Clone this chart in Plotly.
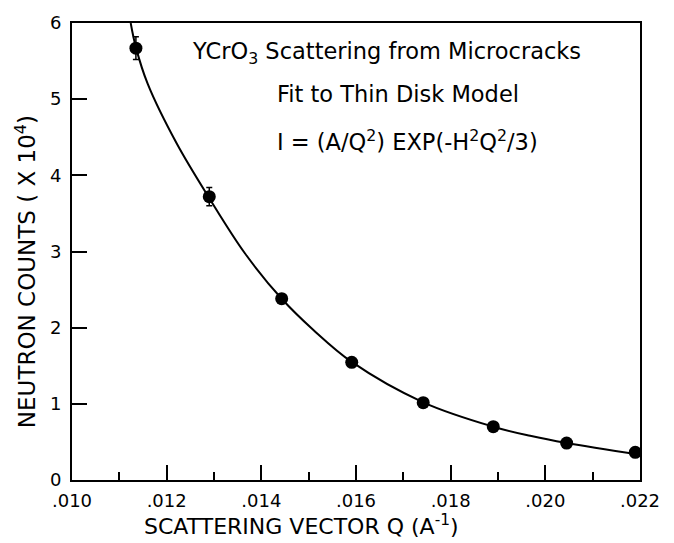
import plotly.graph_objects as go

# Measured small-angle scattering: Q (1/A) and counts (x 10^4)
q_data = [0.01135, 0.01290, 0.01443, 0.01591, 0.01742, 0.01890, 0.02045, 0.02190]
counts = [5.67, 3.72, 2.38, 1.545, 1.015, 0.70, 0.485, 0.364]
count_err = [0.15, 0.12, 0, 0, 0, 0, 0, 0]

# Thin-disk model fit curve, sampled along Q
fit_q = [0.01124, 0.01135, 0.01160, 0.01221, 0.01290, 0.01366, 0.01443, 0.01510,
         0.01591, 0.01742, 0.01890, 0.01968, 0.02045, 0.02200]
fit_i = [6.00, 5.68, 5.20, 4.42, 3.70, 2.97, 2.38, 1.97,
         1.55, 1.02, 0.70, 0.58, 0.485, 0.33]

x_ticks = [0.010, 0.012, 0.014, 0.016, 0.018, 0.020, 0.022]
x_tick_labels = [".010", ".012", ".014", ".016", ".018", ".020", ".022"]
y_ticks = [0, 1, 2, 3, 4, 5, 6]
y_tick_labels = ["0", "1", "2", "3", "4", "5", "6"]

FONT = "DejaVu Sans"

fig = go.Figure()

fig.add_trace(go.Scatter(
    x=fit_q, y=fit_i, mode="lines",
    line=dict(color="black", width=2, shape="spline", smoothing=1.0),
    hoverinfo="skip", showlegend=False,
))

fig.add_trace(go.Scatter(
    x=q_data, y=counts, mode="markers",
    marker=dict(color="black", size=13),
    error_y=dict(type="data", array=count_err, visible=True,
                 color="black", thickness=1.5, width=3),
    showlegend=False,
))

axis_common = dict(
    showline=True, linecolor="black", linewidth=2, mirror=True,
    ticks="inside", tickcolor="black", tickwidth=2,
    showgrid=False, zeroline=False,
    tickfont=dict(family=FONT, size=18, color="black"),
)

fig.update_xaxes(
    range=[0.010, 0.022], tickvals=x_ticks, ticktext=x_tick_labels,
    ticklen=15, ticklabelstandoff=3,
    minor=dict(ticks="inside", dtick=0.001, tick0=0.010, ticklen=8,
               tickwidth=2, tickcolor="black"),
    **axis_common,
)
fig.update_yaxes(
    range=[0, 6], tickvals=y_ticks, ticktext=y_tick_labels,
    ticklen=15, ticklabelstandoff=5,
    **axis_common,
)

text_font = dict(family=FONT, size=22.5, color="black")
annotations = [
    dict(x=0.012493, y=5.61, xref="x", yref="y", xanchor="left", yanchor="middle",
         text="YCrO<sub>3</sub> Scattering from Microcracks", showarrow=False, font=text_font),
    dict(x=0.014289, y=5.07, xref="x", yref="y", xanchor="left", yanchor="middle",
         text="Fit to Thin Disk Model", showarrow=False, font=text_font),
    dict(x=0.014289, y=4.46, xref="x", yref="y", xanchor="left", yanchor="middle",
         text="I = (A/Q<sup>2</sup>) EXP(-H<sup>2</sup>Q<sup>2</sup>/3)", showarrow=False, font=text_font),
    dict(x=0.404, y=-0.099, xref="paper", yref="paper", xanchor="center", yanchor="middle",
         text="SCATTERING VECTOR Q (A<sup>-1</sup>)", showarrow=False,
         font=dict(family=FONT, size=22, color="black")),
    dict(x=-0.081, y=0.457, xref="paper", yref="paper", xanchor="center", yanchor="middle",
         text="NEUTRON COUNTS ( X 10<sup>4</sup>)", showarrow=False, textangle=-90,
         font=dict(family=FONT, size=23, color="black")),
]

fig.update_layout(
    width=674, height=543,
    margin=dict(l=72, r=34, t=13, b=63),
    paper_bgcolor="white", plot_bgcolor="white",
    annotations=annotations,
)

fig.write_html("out.html")
